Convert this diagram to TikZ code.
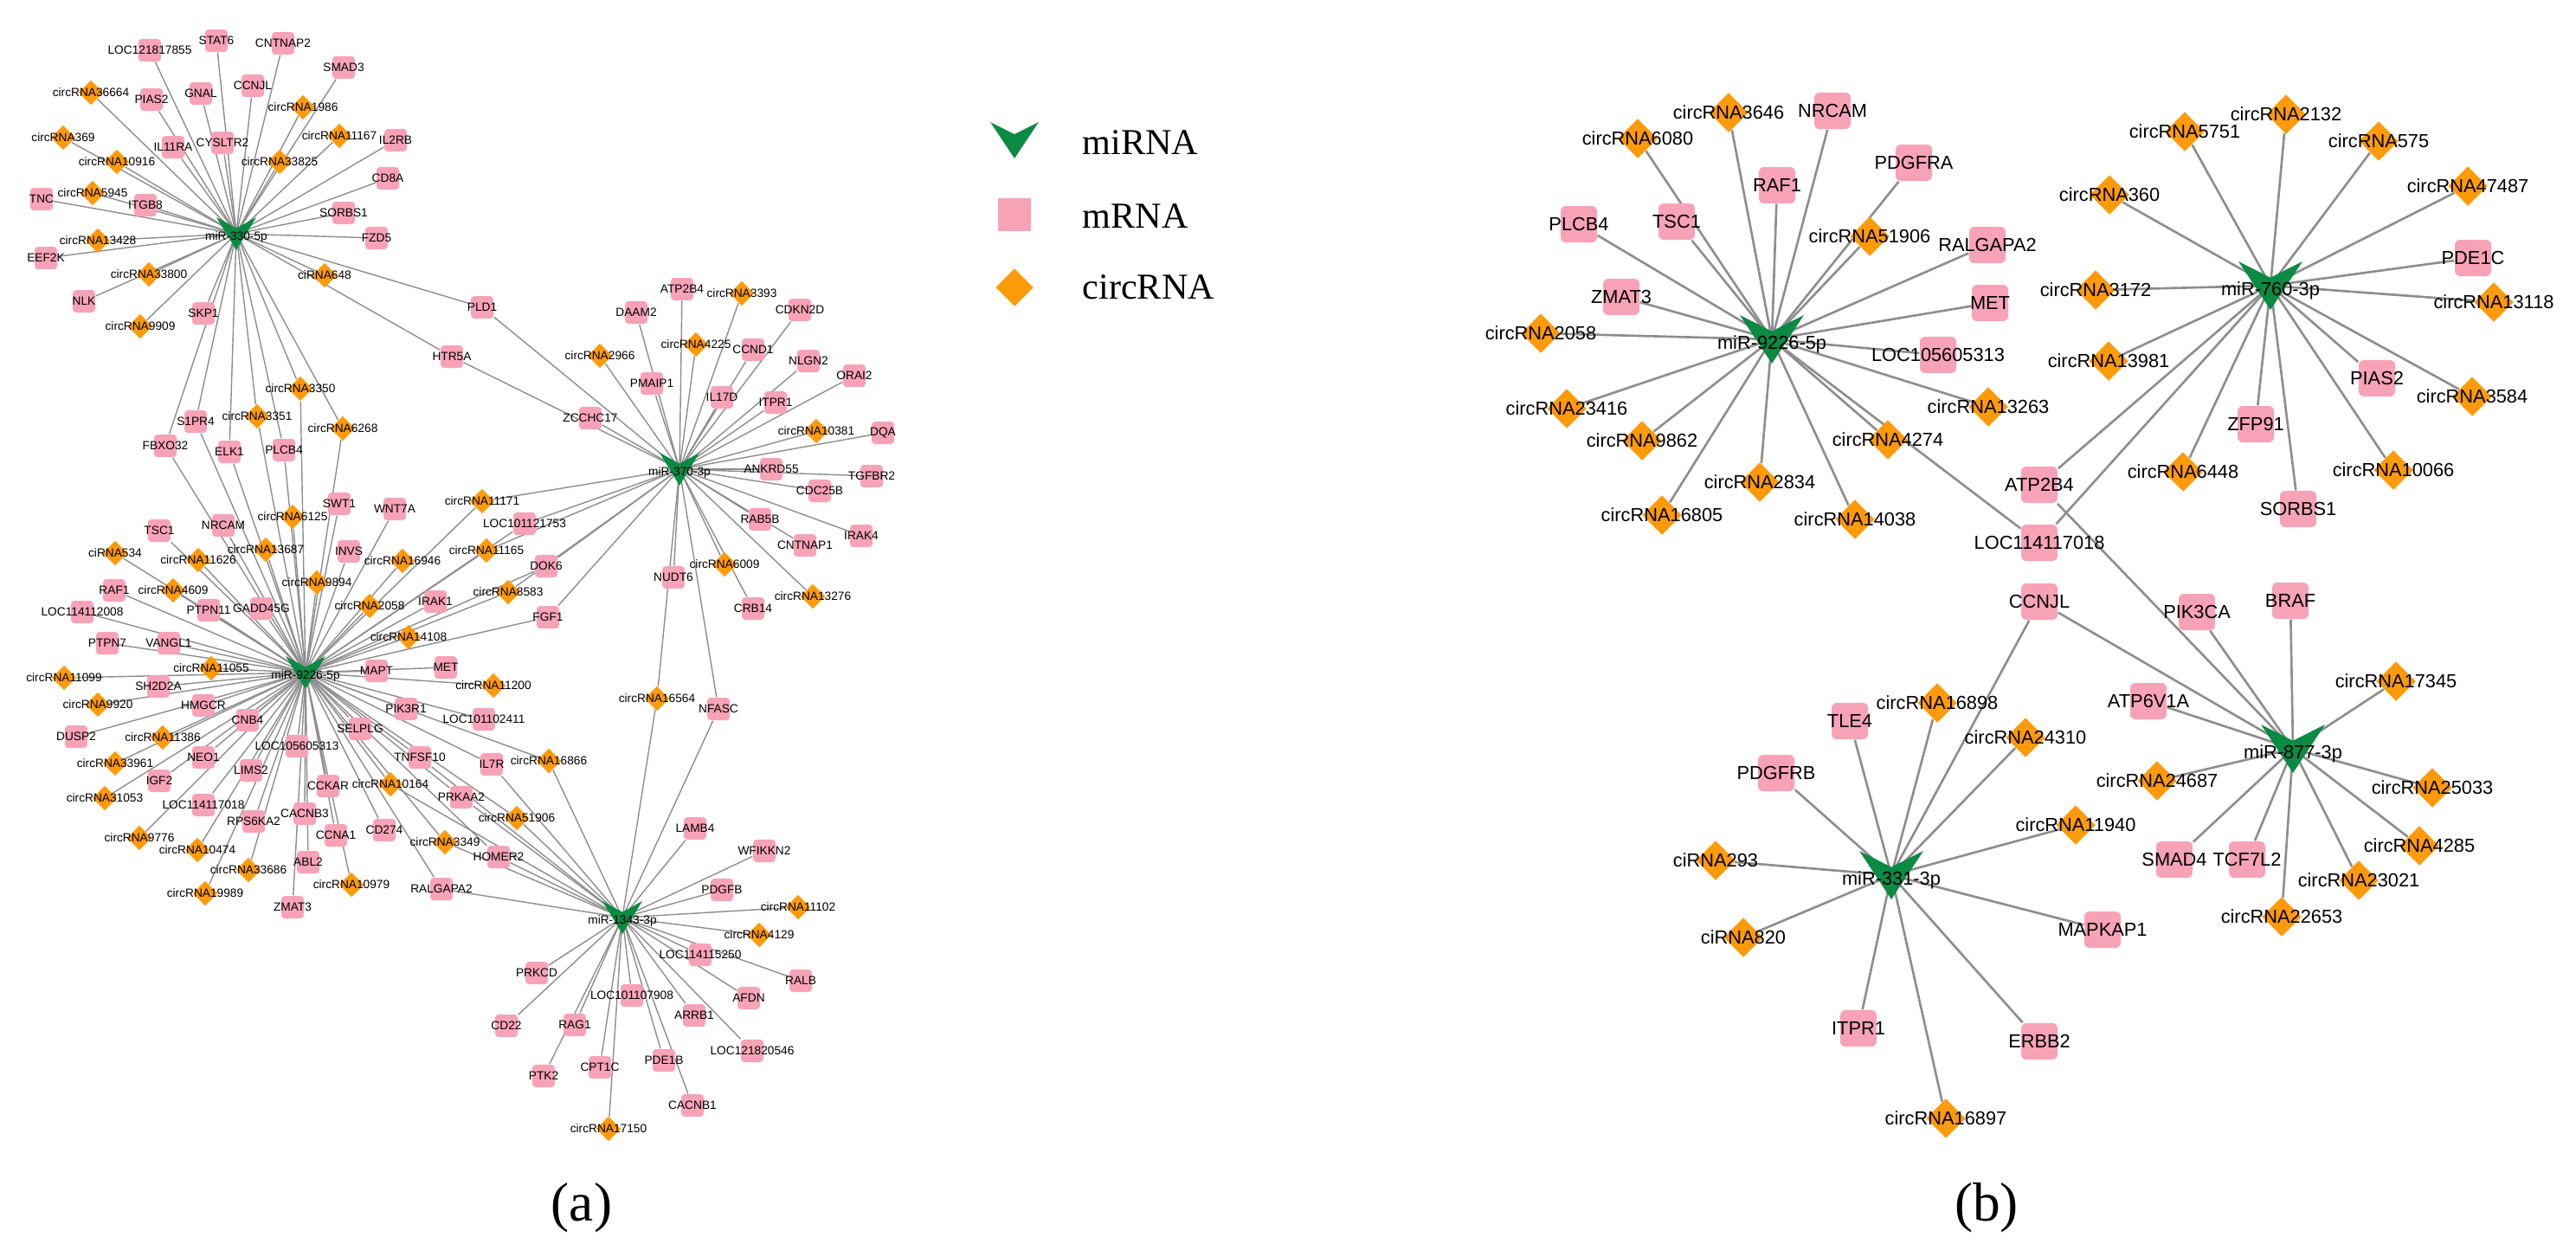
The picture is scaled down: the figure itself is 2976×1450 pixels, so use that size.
\documentclass[tikz,border=0pt]{standalone}
\usepackage{fontspec}
\setmainfont{Liberation Serif}
\newfontfamily\lab{Liberation Sans}
\usetikzlibrary{shapes.geometric}
\pgfdeclarelayer{bg}\pgfsetlayers{bg,main}
\definecolor{pk}{HTML}{F8A2B8}
\definecolor{og}{HTML}{FF9A0A}
\definecolor{gr}{HTML}{0B8A43}
\definecolor{eg}{HTML}{8E8E8E}
\tikzset{
 mqa/.style={rectangle,rounded corners=0.04cm,fill=pk,minimum size=0.26cm,inner sep=0},
 cda/.style={diamond,fill=og,minimum size=0.29cm,inner sep=0},
 lba/.style={inner sep=0,font=\lab\fontsize{3.9}{4}\selectfont},
 mqb/.style={rectangle,rounded corners=0.06cm,fill=pk,minimum size=0.42cm,inner sep=0},
 cdb/.style={diamond,fill=og,minimum size=0.46cm,inner sep=0},
 lbb/.style={inner sep=0,font=\lab\fontsize{6.2}{7}\selectfont},
 eda/.style={draw=eg,line width=0.4pt},
 edb/.style={draw=eg,line width=0.75pt},
 hubc/.style={fill=gr},
 leg/.style={inner sep=0,anchor=west,font=\fontsize{12}{14}\selectfont},
 pan/.style={inner sep=0,font=\fontsize{18}{20}\selectfont},
}
\newcommand\Ma[3]{\node[mqa] (a#3) at (#1,#2) {}; \node[lba] (a#3-t) at (#1,#2) {#3};}
\newcommand\Ca[3]{\node[cda] (a#3) at (#1,#2) {}; \node[lba] (a#3-t) at (#1,#2) {#3};}
\newcommand\Mb[3]{\node[mqb] (b#3) at (#1,#2) {}; \node[lbb] (b#3-t) at (#1,#2) {#3};}
\newcommand\Cb[3]{\node[cdb] (b#3) at (#1,#2) {}; \node[lbb] (b#3-t) at (#1,#2) {#3};}
\newcommand\Hub[7]{\coordinate (#1) at (#2,#3);
 \fill[hubc] (#2-#5/2,#3-#6/2) -- (#2,#3-#6/6) -- (#2+#5/2,#3-#6/2) -- (#2,#3+#6/2) -- cycle;
 \node[#7] (#1-t) at (#2,#3+#6/10) {#4};}
\begin{document}
\begin{tikzpicture}[x=0.01cm,y=-0.01cm]
\useasboundingbox (0,0) rectangle (2976,1450);
% ---------------- panel (a) ----------------
\Ma{173}{58}{LOC121817855}\Ma{250}{47}{STAT6}\Ma{327}{50}{CNTNAP2}\Ma{397}{78}{SMAD3}
\Ca{105}{107}{circRNA36664}\Ma{175}{115}{PIAS2}\Ma{232}{108}{GNAL}\Ma{292}{99}{CCNJL}
\Ca{350}{124}{circRNA1986}\Ca{73}{159}{circRNA369}\Ma{200}{170}{IL11RA}\Ma{257}{165}{CYSLTR2}
\Ca{392}{157}{circRNA11167}\Ma{457}{162}{IL2RB}\Ca{135}{187}{circRNA10916}\Ca{323}{187}{circRNA33825}
\Ma{448}{206}{CD8A}\Ma{48}{230}{TNC}\Ca{107}{223}{circRNA5945}\Ma{168}{237}{ITGB8}
\Ma{397}{246}{SORBS1}\Ca{113}{278}{circRNA13428}\Ma{435}{275}{FZD5}\Ma{53}{298}{EEF2K}
\Ca{172}{317}{circRNA33800}\Ca{375}{318}{ciRNA648}\Ma{97}{348}{NLK}\Ma{235}{362}{SKP1}
\Ca{162}{377}{circRNA9909}
\Ma{557}{355}{PLD1}\Ma{522}{412}{HTR5A}\Ma{682}{483}{ZCCHC17}\Ca{693}{411}{circRNA2966}
\Ma{735}{361}{DAAM2}\Ma{753}{443}{PMAIP1}\Ma{788}{334}{ATP2B4}\Ca{857}{339}{circRNA3393}
\Ca{804}{398}{circRNA4225}\Ma{870}{404}{CCND1}\Ma{924}{358}{CDKN2D}\Ma{834}{459}{IL17D}
\Ma{934}{417}{NLGN2}\Ma{896}{465}{ITPR1}\Ma{987}{434}{ORAI2}\Ca{943}{498}{circRNA10381}
\Ma{1020}{500}{DQA}\Ma{891}{542}{ANKRD55}\Ma{1007}{550}{TGFBR2}\Ma{947}{567}{CDC25B}
\Ma{878}{600}{RAB5B}\Ma{995}{619}{IRAK4}\Ma{930}{630}{CNTNAP1}\Ca{837}{652}{circRNA6009}
\Ma{778}{667}{NUDT6}\Ma{870}{703}{CRB14}\Ca{939}{689}{circRNA13276}
\Ca{347}{449}{circRNA3350}\Ma{226}{487}{S1PR4}\Ca{297}{481}{circRNA3351}\Ca{396}{495}{circRNA6268}
\Ma{191}{515}{FBXO32}\Ma{265}{522}{ELK1}\Ma{328}{520}{PLCB4}\Ma{392}{582}{SWT1}
\Ma{456}{588}{WNT7A}\Ca{338}{597}{circRNA6125}\Ma{258}{607}{NRCAM}\Ma{184}{613}{TSC1}
\Ca{307}{635}{circRNA13687}\Ma{403}{637}{INVS}\Ca{465}{648}{circRNA16946}\Ca{133}{639}{ciRNA534}
\Ca{229}{647}{circRNA11626}\Ma{132}{682}{RAF1}\Ca{200}{682}{circRNA4609}\Ca{366}{673}{circRNA9894}
\Ca{427}{700}{circRNA2058}\Ma{241}{705}{PTPN11}\Ma{302}{703}{GADD45G}\Ma{95}{707}{LOC114112008}
\Ma{124}{743}{PTPN7}\Ma{195}{743}{VANGL1}\Ca{244}{772}{circRNA11055}\Ma{435}{775}{MAPT}
\Ca{74}{783}{circRNA11099}\Ma{183}{793}{SH2D2A}
\Ca{557}{579}{circRNA11171}\Ma{606}{605}{LOC101121753}\Ca{562}{636}{circRNA11165}\Ma{631}{654}{DOK6}
\Ma{503}{695}{IRAK1}\Ca{587}{684}{circRNA8583}\Ma{633}{713}{FGF1}\Ca{472}{736}{circRNA14108}
\Ma{515}{771}{MET}\Ca{570}{792}{circRNA11200}\Ma{469}{819}{PIK3R1}\Ma{559}{831}{LOC101102411}
\Ma{416}{842}{SELPLG}\Ca{759}{807}{circRNA16564}\Ma{830}{819}{NFASC}\Ma{485}{875}{TNFSF10}
\Ma{568}{883}{IL7R}\Ca{634}{879}{circRNA16866}\Ma{379}{908}{CCKAR}\Ca{451}{906}{circRNA10164}
\Ma{533}{921}{PRKAA2}\Ca{597}{945}{circRNA51906}\Ma{444}{959}{CD274}\Ma{388}{965}{CCNA1}
\Ca{514}{973}{circRNA3349}\Ma{576}{990}{HOMER2}\Ma{803}{957}{LAMB4}\Ma{883}{983}{WFIKKN2}
\Ca{113}{814}{circRNA9920}\Ma{235}{815}{HMGCR}\Ma{286}{832}{CNB4}\Ma{88}{851}{DUSP2}
\Ca{188}{852}{circRNA11386}\Ma{343}{862}{LOC105605313}\Ca{133}{882}{circRNA33961}\Ma{235}{875}{NEO1}
\Ma{290}{890}{LIMS2}\Ma{184}{902}{IGF2}\Ca{121}{922}{circRNA31053}\Ma{235}{930}{LOC114117018}
\Ma{352}{940}{CACNB3}\Ma{293}{949}{RPS6KA2}\Ca{161}{968}{circRNA9776}\Ca{228}{982}{circRNA10474}
\Ca{287}{1005}{circRNA33686}\Ma{356}{996}{ABL2}\Ca{406}{1022}{circRNA10979}\Ca{237}{1032}{circRNA19989}
\Ma{338}{1048}{ZMAT3}
\Ma{510}{1027}{RALGAPA2}\Ma{834}{1028}{PDGFB}\Ca{922}{1048}{circRNA11102}\Ca{877}{1080}{circRNA4129}
\Ma{809}{1103}{LOC114115250}\Ma{620}{1124}{PRKCD}\Ma{925}{1133}{RALB}\Ma{865}{1153}{AFDN}
\Ma{730}{1150}{LOC101107908}\Ma{802}{1173}{ARRB1}\Ma{585}{1185}{CD22}\Ma{664}{1184}{RAG1}
\Ma{869}{1214}{LOC121820546}\Ma{767}{1225}{PDE1B}\Ma{693}{1233}{CPT1C}\Ma{628}{1243}{PTK2}
\Ma{800}{1277}{CACNB1}\Ca{703}{1304}{circRNA17150}
\Hub{aH330}{273}{270}{miR-330-5p}{46}{38}{lba}
\Hub{aH370}{785}{542}{miR-370-3p}{46}{38}{lba}
\Hub{aH9226}{353}{777}{miR-9226-5p}{46}{38}{lba}
\Hub{aH1343}{719}{1060}{miR-1343-3p}{46}{38}{lba}
\begin{pgfonlayer}{bg}
\foreach \t in {LOC121817855,STAT6,CNTNAP2,SMAD3,circRNA36664,PIAS2,GNAL,CCNJL,circRNA1986,circRNA369,IL11RA,CYSLTR2,circRNA11167,IL2RB,circRNA10916,circRNA33825,CD8A,TNC,circRNA5945,ITGB8,SORBS1,circRNA13428,FZD5,EEF2K,circRNA33800,ciRNA648,NLK,SKP1,circRNA9909,PLD1,HTR5A,S1PR4,FBXO32,ELK1,PLCB4,circRNA3350,circRNA3351,circRNA6268}
  \draw[eda] (aH330) -- (a\t);
\foreach \t in {PLD1,HTR5A,ZCCHC17,circRNA2966,DAAM2,PMAIP1,ATP2B4,circRNA3393,circRNA4225,CCND1,CDKN2D,IL17D,NLGN2,ITPR1,ORAI2,circRNA10381,DQA,ANKRD55,TGFBR2,CDC25B,RAB5B,IRAK4,CNTNAP1,circRNA6009,NUDT6,CRB14,circRNA13276,circRNA16564,NFASC,circRNA11171,LOC101121753,circRNA11165,DOK6,circRNA8583,FGF1}
  \draw[eda] (aH370) -- (a\t);
\foreach \t in {S1PR4,FBXO32,ELK1,PLCB4,circRNA3350,circRNA3351,circRNA6268,SWT1,WNT7A,circRNA6125,NRCAM,TSC1,circRNA13687,INVS,circRNA16946,ciRNA534,circRNA11626,RAF1,circRNA4609,circRNA9894,circRNA2058,PTPN11,GADD45G,LOC114112008,PTPN7,VANGL1,circRNA11055,MAPT,circRNA11099,SH2D2A,circRNA11171,LOC101121753,circRNA11165,DOK6,IRAK1,circRNA8583,FGF1,circRNA14108,MET,circRNA11200,PIK3R1,LOC101102411,SELPLG,TNFSF10,IL7R,circRNA16866,CCKAR,circRNA10164,PRKAA2,circRNA51906,CD274,CCNA1,circRNA3349,HOMER2,circRNA9920,HMGCR,CNB4,DUSP2,circRNA11386,LOC105605313,circRNA33961,NEO1,LIMS2,IGF2,circRNA31053,LOC114117018,CACNB3,RPS6KA2,circRNA9776,circRNA10474,circRNA33686,ABL2,circRNA10979,circRNA19989,ZMAT3,RALGAPA2}
  \draw[eda] (aH9226) -- (a\t);
\foreach \t in {RALGAPA2,PDGFB,circRNA11102,circRNA4129,LOC114115250,PRKCD,RALB,AFDN,LOC101107908,ARRB1,CD22,RAG1,LOC121820546,PDE1B,CPT1C,PTK2,CACNB1,circRNA17150,LAMB4,WFIKKN2,circRNA16564,NFASC,circRNA16866,IL7R,circRNA51906,PRKAA2,HOMER2,circRNA3349,TNFSF10,circRNA10164}
  \draw[eda] (aH1343) -- (a\t);
\end{pgfonlayer}
% ---------------- legend ----------------
\Hub{lH}{1172}{162}{}{56}{42}{leg}
\node[leg] (lH-l) at (1250,165) {miRNA};
\node[rectangle,fill=pk,minimum size=0.38cm,inner sep=0] (lM) at (1172,248) {};
\node[leg] (lM-l) at (1250,250) {mRNA};
\node[diamond,fill=og,minimum size=0.44cm,inner sep=0] (lC) at (1172,332) {};
\node[leg] (lC-l) at (1250,332) {circRNA};
% ---------------- panel (b) ----------------
\Cb{1997}{130}{circRNA3646}\Mb{2117}{128}{NRCAM}\Cb{1892}{160}{circRNA6080}\Mb{2211}{188}{PDGFRA}
\Mb{2053}{214}{RAF1}\Mb{1824}{259}{PLCB4}\Mb{1937}{256}{TSC1}\Cb{2160}{273}{circRNA51906}
\Mb{2296}{283}{RALGAPA2}\Mb{1873}{343}{ZMAT3}\Mb{2299}{350}{MET}\Cb{1780}{385}{circRNA2058}
\Mb{2239}{410}{LOC105605313}\Cb{1810}{472}{circRNA23416}\Cb{2297}{470}{circRNA13263}
\Cb{1897}{509}{circRNA9862}\Cb{2181}{508}{circRNA4274}\Cb{2033}{557}{circRNA2834}
\Mb{2356}{560}{ATP2B4}\Cb{1920}{595}{circRNA16805}\Cb{2143}{600}{circRNA14038}
\Mb{2356}{627}{LOC114117018}\Mb{2356}{695}{CCNJL}
\Cb{2641}{132}{circRNA2132}\Cb{2524}{152}{circRNA5751}\Cb{2748}{163}{circRNA575}
\Cb{2851}{215}{circRNA47487}\Cb{2437}{225}{circRNA360}\Mb{2857}{298}{PDE1C}
\Cb{2421}{335}{circRNA3172}\Cb{2881}{349}{circRNA13118}\Cb{2436}{417}{circRNA13981}
\Mb{2746}{437}{PIAS2}\Cb{2856}{458}{circRNA3584}\Mb{2606}{490}{ZFP91}
\Cb{2522}{545}{circRNA6448}\Cb{2765}{543}{circRNA10066}\Mb{2655}{588}{SORBS1}
\Mb{2538}{707}{PIK3CA}\Mb{2646}{694}{BRAF}\Cb{2768}{787}{circRNA17345}\Mb{2482}{810}{ATP6V1A}
\Cb{2492}{902}{circRNA24687}\Cb{2810}{910}{circRNA25033}\Mb{2512}{993}{SMAD4}
\Mb{2596}{993}{TCF7L2}\Cb{2795}{977}{circRNA4285}\Cb{2725}{1017}{circRNA23021}
\Cb{2636}{1059}{circRNA22653}
\Cb{2238}{812}{circRNA16898}\Mb{2137}{833}{TLE4}\Cb{2340}{852}{circRNA24310}
\Mb{2052}{893}{PDGFRB}\Cb{2398}{953}{circRNA11940}\Cb{1982}{994}{ciRNA293}
\Cb{2014}{1083}{ciRNA820}\Mb{2429}{1074}{MAPKAP1}\Mb{2147}{1188}{ITPR1}
\Mb{2356}{1203}{ERBB2}\Cb{2248}{1292}{circRNA16897}
\Hub{bH9226}{2047}{392}{miR-9226-5p}{74}{56}{lbb}
\Hub{bH760}{2623}{330}{miR-760-3p}{74}{56}{lbb}
\Hub{bH877}{2649}{865}{miR-877-3p}{74}{56}{lbb}
\Hub{bH331}{2185}{1011}{miR-331-3p}{74}{56}{lbb}
\begin{pgfonlayer}{bg}
\foreach \t in {circRNA3646,NRCAM,circRNA6080,PDGFRA,RAF1,PLCB4,TSC1,circRNA51906,RALGAPA2,ZMAT3,MET,circRNA2058,LOC105605313,circRNA23416,circRNA13263,circRNA9862,circRNA4274,circRNA2834,circRNA16805,circRNA14038,LOC114117018}
  \draw[edb] (bH9226) -- (b\t);
\foreach \t in {circRNA2132,circRNA5751,circRNA575,circRNA47487,circRNA360,PDE1C,circRNA3172,circRNA13118,circRNA13981,PIAS2,circRNA3584,ZFP91,circRNA6448,circRNA10066,SORBS1,ATP2B4,LOC114117018}
  \draw[edb] (bH760) -- (b\t);
\foreach \t in {ATP2B4,CCNJL,PIK3CA,BRAF,circRNA17345,ATP6V1A,circRNA24687,circRNA25033,SMAD4,TCF7L2,circRNA4285,circRNA23021,circRNA22653}
  \draw[edb] (bH877) -- (b\t);
\foreach \t in {CCNJL,circRNA16898,TLE4,circRNA24310,PDGFRB,circRNA11940,ciRNA293,ciRNA820,MAPKAP1,ITPR1,ERBB2,circRNA16897}
  \draw[edb] (bH331) -- (b\t);
\end{pgfonlayer}
\node[pan] (pa) at (672,1395) {(a)};
\node[pan] (pb) at (2295,1395) {(b)};
\end{tikzpicture}
\end{document}
